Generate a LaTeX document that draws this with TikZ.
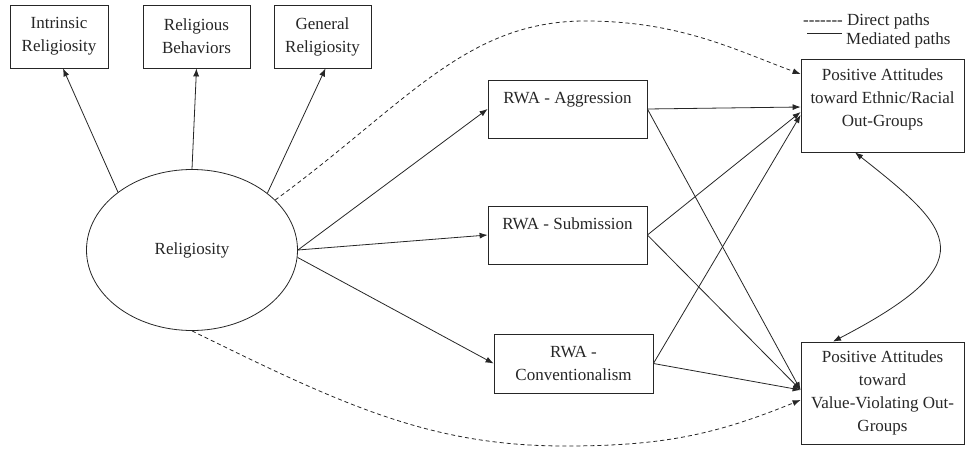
\documentclass[tikz,border=0pt]{standalone}
\usepackage{fontspec}
\setmainfont{Liberation Serif}
\usetikzlibrary{arrows.meta,shapes.geometric}
\definecolor{ink}{gray}{0.15}
\newcommand\hy{\mbox{-}}
\begin{document}
\begin{tikzpicture}[x=1pt,y=-1pt,
  every node/.style={text=ink,font=\fontsize{17}{23}\selectfont,align=center,inner sep=0pt},
  box/.style={draw=ink,line width=0.8pt,rectangle},
  arr/.style={draw=ink,line width=0.8pt,-{Latex[length=8pt,width=6pt]}},
  dasharr/.style={arr,dash pattern=on 4pt off 3pt},
  legtext/.style={anchor=west}]
\useasboundingbox (0,0) rectangle (966,465);
% indicators
\node[box,minimum width=98pt,minimum height=63pt] (intr) at (59,36.5) {Intrinsic\\Religiosity};
\node[box,minimum width=107pt,minimum height=63pt] (behav) at (196.5,36.5) {Religious\\Behaviors};
\node[box,minimum width=97pt,minimum height=63pt] (gen) at (322.5,36.5) {General\\Religiosity};
% latent
\node[draw=ink,line width=0.8pt,ellipse,minimum width=211pt,minimum height=161pt] (rel) at (192,250) {Religiosity};
% mediators
\node[box,minimum width=159pt,minimum height=58pt] (agg) at (567.5,109) {RWA - Aggression\\\mbox{}};
\node[box,minimum width=159pt,minimum height=58pt] (sub) at (567.5,235) {RWA - Submission\\\mbox{}};
\node[box,minimum width=159pt,minimum height=59pt] (conv) at (573.5,363.5) {RWA -\\Conventionalism};
% outcomes
\node[box,minimum width=163pt,minimum height=93pt] (tr) at (882.5,105.5) {Positive Attitudes\\toward Ethnic/Racial\\Out-Groups\\[-8pt]\mbox{}};
\node[box,minimum width=163pt,minimum height=102pt] (br) at (882.5,393) {Positive Attitudes\\toward\\Value-Violating Out-\\Groups};
% legend
\node[legtext] (legd) at (803,21) {\hy\hy\hy\hy\hy\hy\hy{} Direct paths};
\node[legtext] (legm) at (846,40) {Mediated paths};
\coordinate (ls) at (807,33);
\coordinate (le) at (842,33);
\draw[draw=ink,line width=0.8pt] (ls) -- (le);
% measurement arrows
\draw[arr] (rel.142) -- ([xshift=4pt]intr.south);
\draw[arr] (rel.north) -- (behav.south);
\draw[arr] (rel.37) -- ([xshift=3pt]gen.south);
% structural
\draw[arr] (rel.east) -- (agg.west);
\draw[arr] (rel.east) -- (sub.west);
\draw[arr] (rel.-4) -- (conv.west);
\draw[arr] (agg.east) -- ([yshift=-1.5pt]tr.west);
\draw[arr] (sub.east) -- ([yshift=-6.5pt]tr.west);
\draw[arr] (conv.east) -- ([yshift=-9.5pt]tr.west);
\draw[arr] (agg.east) -- ([yshift=3pt]br.west);
\draw[arr] (sub.east) -- ([yshift=3pt]br.west);
\draw[arr] (conv.east) -- ([yshift=3pt]br.west);
% direct paths
\draw[dasharr] (rel.31) .. controls (405,105) and (465,21) .. (585,21) .. controls (680,21) and (735,50) .. ([yshift=31.5pt]tr.west);
\draw[dasharr] (rel.south) .. controls (343,405) and (430,446) .. (565,446) .. controls (665,446) and (717,434) .. ([yshift=-7pt]br.west);
% covariance
\draw[draw=ink,line width=0.8pt,{Latex[length=8pt,width=6pt]}-{Latex[length=8pt,width=6pt]}] ([xshift=-27.5pt]tr.south) .. controls (955,231) and (986,262) .. ([xshift=-49.5pt]br.north);
\end{tikzpicture}
\end{document}
